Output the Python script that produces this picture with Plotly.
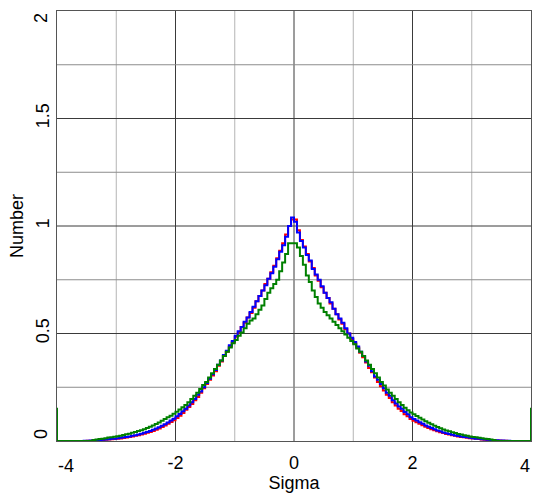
import numpy as np
import plotly.graph_objects as go

# ---- data (bin width 0.05 sigma; "neg" lists run outward from 0 towards -4, "pos" lists from 0 towards +4) ----
bin_edges = np.round(np.linspace(-4.0, 4.0, 161), 3)

blue_pos = [1.02, 0.97, 0.93, 0.90, 0.865, 0.84, 0.80, 0.775, 0.75, 0.72,
            0.69, 0.665, 0.645, 0.615, 0.59, 0.57, 0.55, 0.525, 0.50, 0.48,
            0.46, 0.44, 0.415, 0.395, 0.37, 0.35, 0.325, 0.30, 0.285, 0.265,
            0.245, 0.225, 0.21, 0.19, 0.175, 0.16, 0.15, 0.135, 0.125, 0.11,
            0.102, 0.095, 0.087, 0.08, 0.072, 0.066, 0.06, 0.055, 0.049, 0.045,
            0.04, 0.036, 0.033, 0.029, 0.026, 0.023, 0.021, 0.019, 0.017, 0.015,
            0.013, 0.011, 0.01, 0.008, 0.007, 0.006, 0.005, 0.004, 0.003, 0.002,
            0.002, 0.001, 0.001, 0, 0, 0, 0, 0, 0, 0]
blue_neg = [1.04, 1.00, 0.95, 0.91, 0.88, 0.845, 0.81, 0.78, 0.755, 0.725,
            0.70, 0.675, 0.65, 0.625, 0.60, 0.575, 0.555, 0.53, 0.51, 0.49,
            0.465, 0.445, 0.42, 0.40, 0.375, 0.355, 0.33, 0.31, 0.29, 0.27,
            0.25, 0.23, 0.215, 0.195, 0.18, 0.165, 0.15, 0.138, 0.126, 0.115,
            0.104, 0.095, 0.086, 0.078, 0.071, 0.064, 0.058, 0.052, 0.047, 0.042,
            0.038, 0.034, 0.03, 0.027, 0.024, 0.021, 0.019, 0.017, 0.015, 0.013,
            0.011, 0.01, 0.008, 0.007, 0.006, 0.005, 0.004, 0.003, 0.002, 0.001,
            0.001, 0, 0, 0, 0, 0, 0, 0, 0, 0]

red_pos = [1.03, 0.98, 0.935, 0.905, 0.87, 0.835, 0.805, 0.77, 0.745, 0.715,
           0.69, 0.665, 0.64, 0.615, 0.59, 0.565, 0.545, 0.52, 0.50, 0.475,
           0.455, 0.435, 0.41, 0.39, 0.365, 0.34, 0.32, 0.295, 0.275, 0.255,
           0.235, 0.215, 0.2, 0.18, 0.165, 0.15, 0.14, 0.125, 0.115, 0.102,
           0.094, 0.087, 0.08, 0.073, 0.066, 0.06, 0.055, 0.05, 0.045, 0.041,
           0.037, 0.033, 0.03, 0.027, 0.024, 0.021, 0.019, 0.017, 0.015, 0.013,
           0.012, 0.01, 0.009, 0.007, 0.006, 0.005, 0.004, 0.003, 0.002, 0.002,
           0.001, 0.001, 0, 0, 0, 0, 0, 0, 0, 0]
red_neg = [1.03, 1.00, 0.96, 0.92, 0.885, 0.85, 0.815, 0.785, 0.755, 0.73,
           0.70, 0.675, 0.65, 0.62, 0.595, 0.575, 0.55, 0.53, 0.505, 0.485,
           0.46, 0.44, 0.415, 0.395, 0.37, 0.35, 0.325, 0.305, 0.285, 0.265,
           0.245, 0.225, 0.205, 0.19, 0.172, 0.158, 0.145, 0.13, 0.118, 0.107,
           0.097, 0.088, 0.08, 0.072, 0.065, 0.058, 0.052, 0.047, 0.042, 0.038,
           0.034, 0.03, 0.027, 0.024, 0.021, 0.019, 0.016, 0.014, 0.012, 0.011,
           0.009, 0.008, 0.007, 0.006, 0.005, 0.004, 0.003, 0.002, 0.001, 0.001,
           0, 0, 0, 0, 0, 0, 0, 0, 0, 0]

green_pos = [0.92, 0.90, 0.86, 0.82, 0.77, 0.74, 0.70, 0.67, 0.64, 0.62,
             0.60, 0.585, 0.57, 0.555, 0.54, 0.525, 0.51, 0.495, 0.48, 0.465,
             0.45, 0.43, 0.415, 0.395, 0.375, 0.355, 0.335, 0.315, 0.295, 0.275,
             0.258, 0.24, 0.225, 0.21, 0.195, 0.18, 0.167, 0.155, 0.143, 0.133,
             0.125, 0.116, 0.108, 0.1, 0.092, 0.085, 0.078, 0.071, 0.065, 0.059,
             0.054, 0.049, 0.045, 0.041, 0.037, 0.033, 0.03, 0.027, 0.024, 0.021,
             0.019, 0.017, 0.015, 0.013, 0.011, 0.009, 0.007, 0.005, 0, 0,
             0, 0, 0, 0, 0, 0, 0, 0, 0, 0]
green_neg = [0.92, 0.92, 0.87, 0.83, 0.79, 0.75, 0.73, 0.71, 0.69, 0.66,
             0.63, 0.61, 0.59, 0.57, 0.56, 0.545, 0.525, 0.505, 0.49, 0.47,
             0.455, 0.435, 0.415, 0.395, 0.375, 0.355, 0.335, 0.315, 0.295, 0.275,
             0.26, 0.242, 0.225, 0.21, 0.195, 0.18, 0.168, 0.157, 0.146, 0.136,
             0.127, 0.118, 0.11, 0.102, 0.094, 0.086, 0.079, 0.072, 0.066, 0.06,
             0.055, 0.05, 0.046, 0.042, 0.038, 0.034, 0.031, 0.028, 0.025, 0.022,
             0.02, 0.018, 0.016, 0.013, 0.011, 0.009, 0.007, 0.005, 0, 0,
             0, 0, 0, 0, 0, 0, 0, 0, 0, 0]
green_underflow = 0.155
green_overflow = 0.155

x_tick_vals = [-4, -2, 0, 2, 4]
x_tick_text = ["-4", "-2", "0", "2", "4"]
y_tick_vals = [0, 0.5, 1, 1.5, 2]
y_tick_text = ["0", "0.5", "1", "1.5", "2"]

FONT = "Arial, Liberation Sans, sans-serif"
X_RANGE = [x_tick_vals[0], x_tick_vals[-1]]
Y_RANGE = [y_tick_vals[0], y_tick_vals[-1]]


def hist_values(neg, pos):
    return list(reversed(neg)) + list(pos)


fig = go.Figure()

for name, neg, pos, color in [("red", red_neg, red_pos, "#ff0000"),
                              ("blue", blue_neg, blue_pos, "#0000ff")]:
    vals = hist_values(neg, pos)
    fig.add_trace(go.Scatter(x=list(bin_edges), y=vals + [vals[-1]], mode="lines",
                             line=dict(color=color, width=2, shape="hv"), name=name,
                             showlegend=False, hoverinfo="skip"))

gvals = hist_values(green_neg, green_pos)
gx = [bin_edges[0]] + list(bin_edges) + [bin_edges[-1]]
gy = [green_underflow] + gvals + [gvals[-1], green_overflow]
fig.add_trace(go.Scatter(x=gx, y=gy, mode="lines",
                         line=dict(color="#008000", width=2, shape="hv"), name="green",
                         showlegend=False, hoverinfo="skip"))

# grid lines: major darker, minor lighter
shapes = []
for xv in range(-3, 4):
    col = "#3a3a3a" if xv % 2 == 0 else "#b4b4b4"
    shapes.append(dict(type="line", xref="x", yref="paper", x0=xv, x1=xv, y0=0, y1=1,
                       line=dict(color=col, width=1), layer="below"))
for i in range(1, 8):
    yv = i * 0.25
    col = "#3a3a3a" if i % 2 == 0 else "#8c8c8c"
    shapes.append(dict(type="line", xref="paper", yref="y", x0=0, x1=1, y0=yv, y1=yv,
                       line=dict(color=col, width=1), layer="below"))

annotations = []
# tick labels at the ends of each axis are kept inside the plot area
for v, t in zip(x_tick_vals, x_tick_text):
    if v in (x_tick_vals[0], x_tick_vals[-1]):
        first = v == x_tick_vals[0]
        annotations.append(dict(x=0 if first else 1, y=0, xref="paper", yref="paper", text=t, showarrow=False,
                                xanchor="left" if first else "right", xshift=-1 if first else 1,
                                yanchor="top", yshift=-13, font=dict(family=FONT, size=18, color="black")))
for v, t in zip(y_tick_vals, y_tick_text):
    if v in (y_tick_vals[0], y_tick_vals[-1]):
        first = v == y_tick_vals[0]
        annotations.append(dict(x=0, y=0 if first else 1, xref="paper", yref="paper", text=t, showarrow=False,
                                textangle=-90, xanchor="right", yanchor="bottom" if first else "top",
                                xshift=-4, font=dict(family=FONT, size=18, color="black")))

inner_x = [(v, t) for v, t in zip(x_tick_vals, x_tick_text) if v not in (x_tick_vals[0], x_tick_vals[-1])]
inner_y = [(v, t) for v, t in zip(y_tick_vals, y_tick_text) if v not in (y_tick_vals[0], y_tick_vals[-1])]

fig.update_layout(
    width=533, height=495,
    margin=dict(l=57, r=2, t=11, b=54, autoexpand=False),
    paper_bgcolor="white", plot_bgcolor="white",
    font=dict(family=FONT, size=18, color="black"),
    shapes=shapes, annotations=annotations,
    xaxis=dict(range=X_RANGE, showgrid=False, zeroline=False, automargin=False,
               tickvals=[v for v, _ in inner_x], ticktext=[t for _, t in inner_x],
               ticks="", ticklen=0, tickfont=dict(size=18), ticklabelstandoff=5,
               showline=True, linecolor="#555555", linewidth=1, mirror=True,
               title=dict(text="Sigma", font=dict(size=18), standoff=2)),
    yaxis=dict(range=Y_RANGE, showgrid=False, zeroline=False, automargin=False,
               tickvals=[v for v, _ in inner_y], ticktext=[t for _, t in inner_y],
               ticks="", tickangle=-90, tickfont=dict(size=18),
               showline=True, linecolor="#555555", linewidth=1, mirror=True,
               title=dict(text="Number", font=dict(size=18), standoff=4)),
)

fig.write_html("out.html", config={"displayModeBar": False},
               post_script="document.body.style.margin='0px';")
